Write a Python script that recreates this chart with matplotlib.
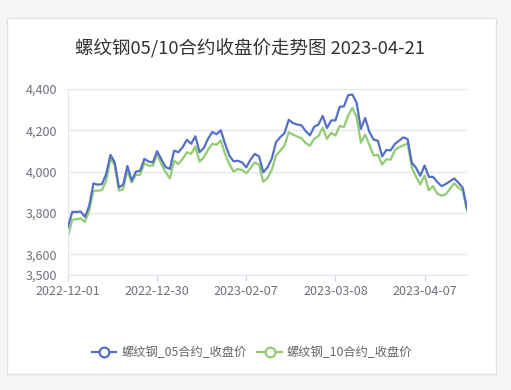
import matplotlib
matplotlib.use("Agg")
import matplotlib.pyplot as plt
from matplotlib.patches import Rectangle
from matplotlib.lines import Line2D
from matplotlib.ticker import FuncFormatter
import pandas as pd

plt.rcParams['font.family'] = ['Noto Sans CJK SC', 'DejaVu Sans']

title = "螺纹钢05/10合约收盘价走势图 2023-04-21"
series_names = ["螺纹钢_05合约_收盘价", "螺纹钢_10合约_收盘价"]

holidays = ["2023-01-02", "2023-01-23", "2023-01-24", "2023-01-25",
            "2023-01-26", "2023-01-27", "2023-04-05"]
dates = [d.strftime("%Y-%m-%d") for d in pd.bdate_range("2022-12-01", "2023-04-21")
         if d.strftime("%Y-%m-%d") not in holidays]

close_05 = [3733, 3805, 3805, 3807, 3781, 3835, 3943, 3937, 3940, 3989,
            4081, 4045, 3924, 3937, 4028, 3956, 4000, 4005, 4062, 4049,
            4045, 4099, 4060, 4022, 4013, 4102, 4094, 4118, 4154, 4135,
            4171, 4094, 4115, 4159, 4192, 4181, 4200, 4135, 4078, 4050,
            4053, 4045, 4021, 4058, 4086, 4074, 3997, 4021, 4062, 4143,
            4167, 4186, 4251, 4235, 4228, 4224, 4196, 4176, 4217, 4228,
            4270, 4211, 4248, 4248, 4313, 4316, 4370, 4373, 4333, 4207,
            4260, 4192, 4155, 4150, 4074, 4105, 4103, 4134, 4150, 4166,
            4158, 4043, 4018, 3980, 4030, 3975, 3975, 3950, 3930, 3940,
            3954, 3967, 3946, 3922, 3822]
close_10 = [3689, 3767, 3770, 3773, 3757, 3810, 3908, 3908, 3911, 3956,
            4062, 4032, 3908, 3916, 4005, 3948, 3984, 3985, 4041, 4029,
            4029, 4086, 4037, 3997, 3967, 4053, 4037, 4062, 4094, 4086,
            4122, 4049, 4070, 4106, 4135, 4130, 4151, 4086, 4037, 4000,
            4013, 4008, 3992, 4017, 4045, 4033, 3951, 3969, 4008, 4078,
            4102, 4126, 4191, 4180, 4170, 4162, 4138, 4126, 4159, 4172,
            4213, 4159, 4188, 4175, 4221, 4216, 4272, 4309, 4264, 4140,
            4180, 4130, 4078, 4082, 4034, 4060, 4058, 4104, 4118, 4127,
            4137, 4020, 3975, 3938, 3982, 3910, 3930, 3893, 3884, 3890,
            3918, 3943, 3922, 3907, 3811]
y_ticks = [3500, 3600, 3800, 4000, 4200, 4400]
x_tick_labels = ["2022-12-01", "2022-12-30", "2023-02-07", "2023-03-08", "2023-04-07"]

W, H = 511, 390
fig = plt.figure(figsize=(W / 100, H / 100), dpi=100)
fig.patch.set_facecolor("#f6f6f6")
card = Rectangle((7 / W, 1 - 374 / H), (496 - 7) / W, (374 - 18) / H,
                 transform=fig.transFigure, facecolor="white",
                 edgecolor="#dde2ea", linewidth=1.0, zorder=-10)
fig.patches.append(card)

ax = fig.add_axes([68 / W, 1 - 275 / H, (467 - 68) / W, (275 - 89) / H])
ax.set_zorder(1)
ax.set_facecolor("none")
blue, green = "#5470c6", "#91cc75"
x = list(range(len(dates)))
ax.plot(x, close_05, color=blue, lw=1.6, zorder=3)
ax.plot(x, close_10, color=green, lw=1.6, zorder=2)

ax.set_xlim(0, len(dates) - 1)
ax.set_ylim(3500, 4400)
ax.set_yticks(y_ticks)
ax.yaxis.set_major_formatter(FuncFormatter(lambda v, p: f"{int(v):,}"))
ax.grid(axis="y", color="#e0e6f1", lw=1.0)
tick_pos = [dates.index(d) for d in x_tick_labels]
ax.set_xticks(tick_pos)
ax.set_xticklabels(x_tick_labels)
for s in ["top", "right"]:
    ax.spines[s].set_visible(False)
ax.spines["left"].set_color("#e0e6f1")
ax.spines["bottom"].set_color("#e0e6f1")
ax.tick_params(axis="y", length=0, pad=8, labelsize=9, labelcolor="#6e7079")
ax.tick_params(axis="x", length=4, color="#d0d6e1", pad=3, labelsize=9, labelcolor="#6e7079")

fig.text(250 / W, 1 - 48 / H, title, ha="center", va="center", fontsize=13.3, color="#333333")

handles = [Line2D([], [], color=blue, lw=1.6, marker="o", markersize=7,
                  markerfacecolor="white", markeredgewidth=1.6),
           Line2D([], [], color=green, lw=1.6, marker="o", markersize=7,
                  markerfacecolor="white", markeredgewidth=1.6)]
leg = fig.legend(handles, series_names, loc="center", bbox_to_anchor=(252 / W, 1 - 353 / H),
                 ncol=2, frameon=False, fontsize=8.8, handlelength=2.0,
                 handletextpad=0.4, columnspacing=0.9, labelcolor="#666666")

fig.savefig("out.png", dpi=100, facecolor=fig.get_facecolor())
